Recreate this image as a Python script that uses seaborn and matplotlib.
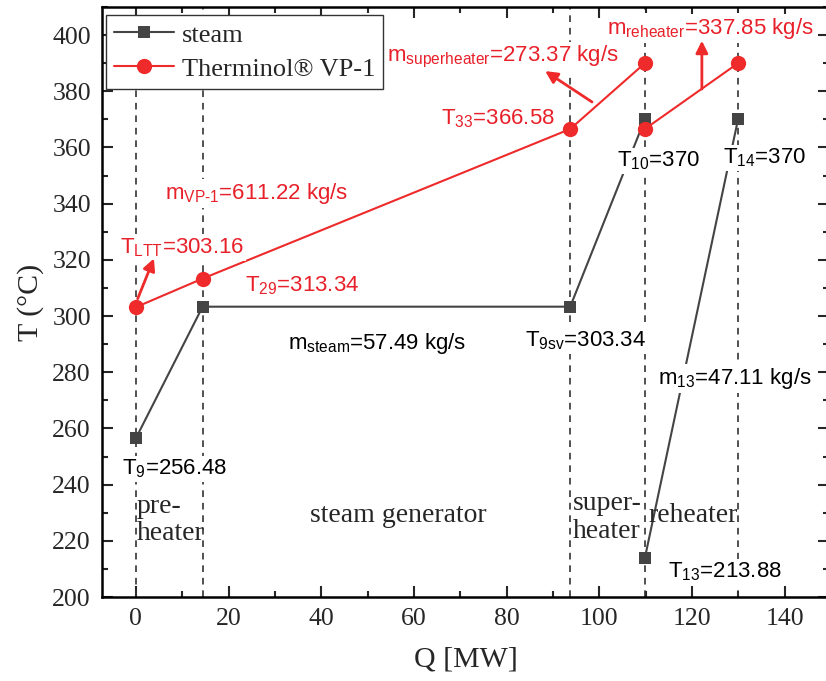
import matplotlib

matplotlib.use("Agg")
import matplotlib.pyplot as plt  # noqa: E402
import pandas as pd  # noqa: E402
import seaborn as sns  # noqa: E402
from matplotlib.lines import Line2D  # noqa: E402
from matplotlib.ticker import MultipleLocator  # noqa: E402

RED = "#ee2a2a"
TXT_RED = "#e8202a"
GREY = "#444444"

# heat duty [MW] / temperature [°C]; seg splits the reheater branch
steam_q = [0, 14.4, 93.7, 109.8, 109.8, 129.9]
steam_t = [256.48, 303.34, 303.34, 370, 213.88, 370]
steam_seg = [0, 0, 0, 0, 1, 1]

vp1_q = [0, 14.4, 93.7, 109.8, 109.8, 129.9]
vp1_t = [303.16, 313.34, 366.58, 390, 366.58, 390]
vp1_seg = [0, 0, 0, 0, 1, 1]

bounds = [0, 14.4, 93.7, 109.8, 129.9]

sns.set_style("ticks")
plt.rcParams["font.family"] = ["Liberation Serif", "DejaVu Serif"]
plt.rcParams["mathtext.fontset"] = "custom"
plt.rcParams["mathtext.rm"] = "Liberation Sans"
plt.rcParams["mathtext.it"] = "Liberation Sans"

steam = pd.DataFrame({"Q": steam_q, "T": steam_t, "seg": steam_seg})
vp1 = pd.DataFrame({"Q": vp1_q, "T": vp1_t, "seg": vp1_seg})

fig = plt.figure(figsize=(8.26, 6.81), dpi=100)
ax = fig.add_axes([0.1235, 0.1233, 0.880, 0.8664])

for b in bounds:
    ax.axvline(b, color="#333333", ls=(0, (4, 3.5)), lw=1.2, zorder=1)

sns.lineplot(data=steam, x="Q", y="T", units="seg", estimator=None, sort=False,
             color=GREY, marker="s", markersize=9, markeredgewidth=0,
             lw=1.5, ax=ax, legend=False, zorder=2)
sns.lineplot(data=vp1, x="Q", y="T", units="seg", estimator=None, sort=False,
             color=RED, marker="o", markersize=11, markeredgewidth=0,
             lw=1.5, ax=ax, legend=False, zorder=2)

box = dict(facecolor="white", edgecolor="none", pad=1.5)
sans = dict(family="Liberation Sans", fontsize=16, ha="left", va="center",
            bbox=box, zorder=3)

# red (Therminol) labels
ax.text(-3.5, 324.3, r"T$_{\rm LTT}$=303.16", color=TXT_RED, **sans)
ax.text(6.3, 343.5, r"m$_{\rm VP\text{-}1}$=611.22 kg/s", color=TXT_RED, **sans)
ax.text(23.5, 310.8, r"T$_{\rm 29}$=313.34", color=TXT_RED, **sans)
ax.text(65.8, 370.2, r"T$_{\rm 33}$=366.58", color=TXT_RED, **sans)
ax.text(54.2, 392.3, r"m$_{\rm superheater}$=273.37 kg/s", color=TXT_RED, **sans)
ax.text(101.6, 402.3, r"m$_{\rm reheater}$=337.85 kg/s", color=TXT_RED, **sans)

# steam labels
ax.text(32.8, 290.2, r"m$_{\rm steam}$=57.49 kg/s", color="black", **sans)
ax.text(83.9, 291.3, r"T$_{\rm 9sv}$=303.34", color="black", **sans)
ax.text(-3.0, 245.5, r"T$_{\rm 9}$=256.48", color="black", **sans)
ax.text(103.8, 355.2, r"T$_{\rm 10}$=370", color="black", **sans)
ax.text(126.6, 356.3, r"T$_{\rm 14}$=370", color="black", **sans)
ax.text(112.6, 277.8, r"m$_{\rm 13}$=47.11 kg/s", color="black", **sans)
ax.text(114.8, 208.9, r"T$_{\rm 13}$=213.88", color="black", **sans)

arrow = dict(arrowstyle="-|>", color=RED, lw=2, mutation_scale=18,
             shrinkA=0, shrinkB=0)
ax.annotate("", xy=(3.9, 320.5), xytext=(0.4, 306.2), arrowprops=arrow, zorder=3)
ax.annotate("", xy=(88.3, 387.2), xytext=(98.4, 376.2), arrowprops=arrow, zorder=3)
ax.annotate("", xy=(122.1, 398.0), xytext=(122.1, 380.8), arrowprops=arrow, zorder=3)

# section names
serif = dict(fontsize=20, ha="left", va="center", linespacing=1.15)
ax.text(0.2, 227.4, "pre-\nheater", **serif)
ax.text(37.5, 229.1, "steam generator", **serif)
ax.text(94.3, 228.4, "super-\nheater", **serif)
ax.text(110.5, 229.0, "reheater", **serif)

ax.set_xlim(-7.3, 149.5)
ax.set_ylim(200, 410)
ax.xaxis.set_major_locator(MultipleLocator(20))
ax.xaxis.set_minor_locator(MultipleLocator(10))
ax.yaxis.set_major_locator(MultipleLocator(20))
ax.yaxis.set_minor_locator(MultipleLocator(10))
ax.tick_params(which="both", direction="in", top=True, right=True, width=1.5,
               labelsize=18.5)
ax.tick_params(which="major", length=8, pad=8)
ax.tick_params(which="minor", length=4)
for s in ax.spines.values():
    s.set_linewidth(1.8)
    s.set_color("black")

ax.set_xlabel("Q [MW]", fontsize=21.5, labelpad=12)
ax.set_ylabel("T (°C)", fontsize=21.5, labelpad=6)

handles = [
    Line2D([], [], color=GREY, marker="s", markersize=9, lw=1.5, mew=0),
    Line2D([], [], color=RED, marker="o", markersize=11, lw=1.5, mew=0),
]
leg = ax.legend(handles, ["steam", "Therminol® VP-1"], loc="upper left",
                bbox_to_anchor=(0.005, 0.986), borderaxespad=0,
                fontsize=19, frameon=True, fancybox=False, handlelength=2.3,
                borderpad=0.3, labelspacing=0.4, handletextpad=0.3,
                framealpha=1)
leg.get_frame().set_edgecolor("#333333")
leg.get_frame().set_linewidth(1.0)
leg.set_zorder(5)

fig.savefig("out.png", dpi=100)
